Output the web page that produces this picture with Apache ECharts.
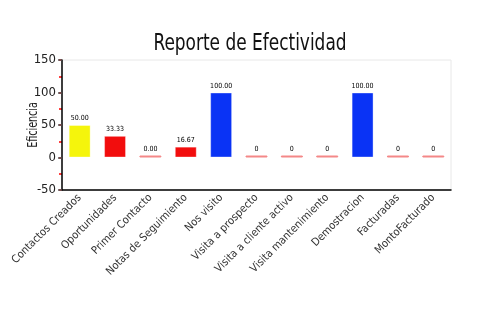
<!DOCTYPE html>
<html><head><meta charset="utf-8">
<script src="https://cdn.jsdelivr.net/npm/echarts@6/dist/echarts.min.js"></script>
<style>html,body{margin:0;padding:0;background:#fff}#c{width:500px;height:330px}</style>
</head><body><div id="c"></div>
<script>
const categories = ["Contactos Creados","Oportunidades","Primer Contacto","Notas de Seguimiento","Nos visito","Visita a prospecto","Visita a cliente activo","Visita mantenimiento","Demostracion","Facturadas","MontoFacturado"];
const values = [50, 33.33, 0, 16.67, 100, 0, 0, 0, 100, 0, 0];
const valueLabels = ["50.00","33.33","0.00","16.67","100.00","0","0","0","100.00","0","0"];
const barColors = ["#f5f50c","#f20d0d","#f48888","#f20d0d","#0a33f5","#f48888","#f48888","#f48888","#0a33f5","#f48888","#f48888"];
const yTicks = [-50, 0, 50, 100, 150];
const titleText = "Reporte de Efectividad";
const yName = "Eficiencia";

const FONT = "'DejaVu Sans Condensed','DejaVu Sans',sans-serif";
const chart = echarts.init(document.getElementById('c'), null, {renderer:'canvas'});
chart.setOption({
  animation:false,
  graphic:[
   {type:'text', x:250, y:44, scaleX:0.82, z:10,
    style:{text:titleText, font:"23px 'DejaVu Sans Condensed','DejaVu Sans',sans-serif", fill:'#111',
      textAlign:'center', textVerticalAlign:'middle', align:'center', verticalAlign:'middle'}},
   {type:'text', x:33.5, y:125, rotation:Math.PI/2, scaleX:0.76, z:10,
    style:{text:yName, font:"14px 'DejaVu Sans Condensed','DejaVu Sans',sans-serif", fill:'#222',
      textAlign:'center', textVerticalAlign:'middle', align:'center', verticalAlign:'middle'}}],
  grid:{left:62, right:49, top:60, bottom:140, show:true, borderColor:'#e8e8e8', borderWidth:1},
  xAxis:[{type:'category', data:categories, position:'bottom',
    axisLine:{onZero:false, lineStyle:{color:'#000', width:1.5}},
    axisTick:{alignWithLabel:true, length:3, lineStyle:{color:'#333'}},
    axisLabel:{rotate:45, interval:0, fontFamily:FONT, fontSize:11, color:'#333', margin:6}},
   {type:'category', data:categories, position:'bottom', offset:0,
    axisLine:{show:false}, axisLabel:{show:false},
    axisTick:{alignWithLabel:true, inside:true, length:3, lineStyle:{color:'#333'}}}],
  yAxis:[{type:'value', min:yTicks[0], max:yTicks[yTicks.length-1], interval:50, z:3,
    axisLine:{show:true, lineStyle:{color:'#000', width:1.5}},
    axisTick:{show:true, length:4, lineStyle:{color:'#555', width:1.5}},
    splitLine:{show:false},
    axisLabel:{fontFamily:FONT, fontSize:13, color:'#222', margin:6}},
   {type:'value', min:yTicks[0], max:yTicks[yTicks.length-1], interval:25, position:'left', offset:0, z:2,
    axisLine:{show:false}, axisLabel:{show:false}, splitLine:{show:false},
    axisTick:{show:true, length:3, lineStyle:{color:'#f00', width:1.5}}}],
  series:[{type:'bar', barWidth:'62%', barMinHeight:2, yAxisIndex:0, xAxisIndex:0,
    data: values.map((v,i)=>({value:v, itemStyle:{color:barColors[i], borderColor: v===0? barColors[i] : 'rgba(255,255,255,0.35)', borderWidth:1}})),
    label:{show:true, position:'top', distance:3, fontFamily:FONT, fontSize:7, color:'#000',
      formatter:p=>valueLabels[p.dataIndex]}}]
});
</script></body></html>
